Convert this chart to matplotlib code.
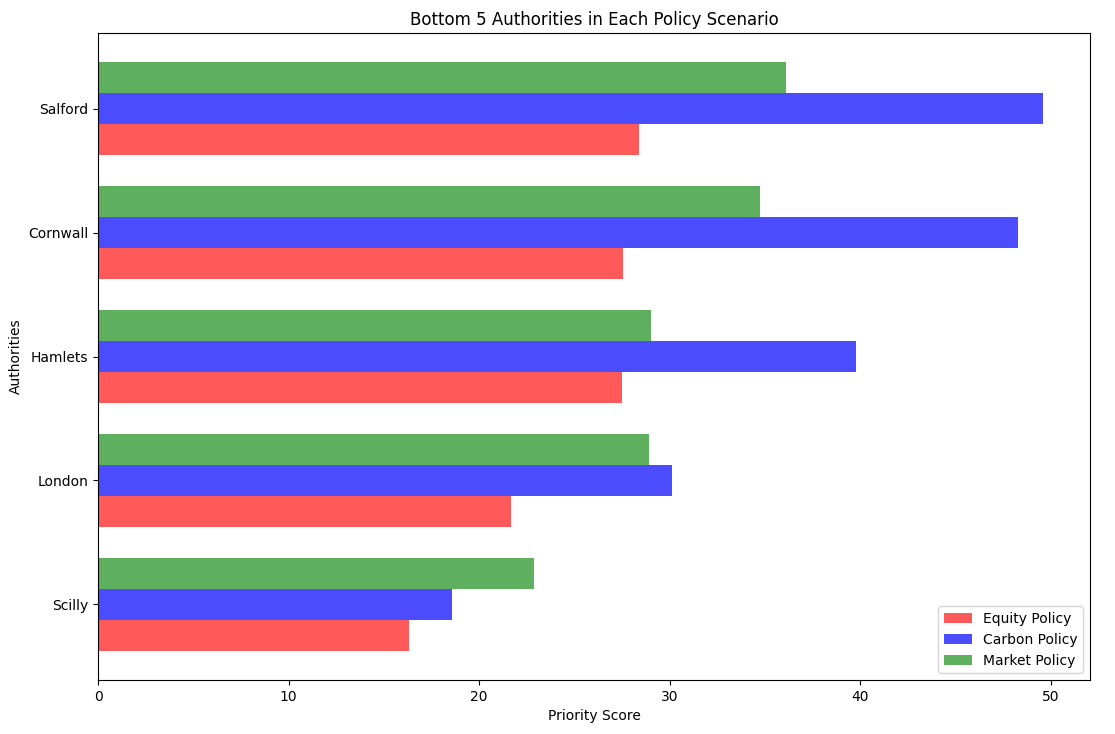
import matplotlib
matplotlib.use('Agg')
import matplotlib.pyplot as plt
import numpy as np

authorities = ['Scilly', 'London', 'Hamlets', 'Cornwall', 'Salford']
equity = [16.3, 21.65, 27.52, 27.57, 28.4]
carbon = [18.6, 30.14, 39.78, 48.27, 49.58]
market = [22.9, 28.93, 29.04, 34.75, 36.1]

y = np.arange(len(authorities))
h = 0.25

fig = plt.figure(figsize=(11.15, 7.34), dpi=100)
ax = fig.add_axes([98 / 1115, 1 - 680 / 734, (1090 - 98) / 1115, (680 - 33) / 734])
ax.barh(y - h, equity, h, color='red', alpha=0.65, label='Equity Policy')
ax.barh(y, carbon, h, color='blue', alpha=0.7, label='Carbon Policy')
ax.barh(y + h, market, h, color='green', alpha=0.63, label='Market Policy')

ax.set_yticks(y)
ax.set_yticklabels(authorities)
ax.set_xlabel('Priority Score')
ax.set_ylabel('Authorities')
ax.set_title('Bottom 5 Authorities in Each Policy Scenario')
ax.legend(loc='lower right')

plt.savefig('out.png')
